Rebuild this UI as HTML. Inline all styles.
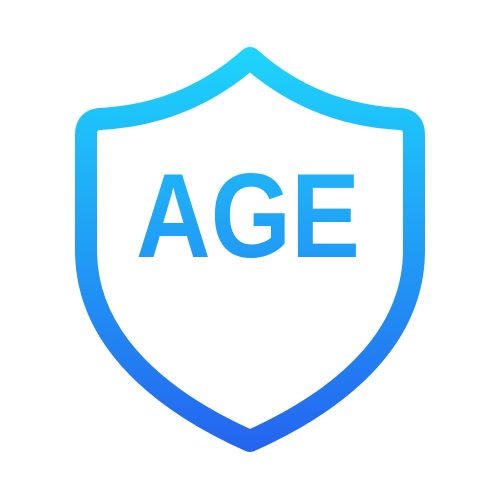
<!DOCTYPE html>
<html>
<head>
<meta charset="utf-8">
<style>
  html,body{margin:0;padding:0;background:#fff;}
  svg{display:block;}
</style>
</head>
<body>
<svg width="500" height="500" viewBox="0 0 500 500">
  <defs>
    <linearGradient id="g" x1="0" y1="45" x2="0" y2="455" gradientUnits="userSpaceOnUse">
      <stop offset="0" stop-color="#1dd6fc"/>
      <stop offset="1" stop-color="#2463ef"/>
    </linearGradient>
  </defs>
  <path
    d="M250,58 C205,98 155,116 100,119 Q86,120 86,135 L86,250 C86,342 165,403 250,441 C335,403 414,342 414,250 L414,135 Q414,120 400,119 C345,116 295,98 250,58 Z"
    fill="none" stroke="url(#g)" stroke-width="22" stroke-linejoin="round"/>
  <text x="136" y="257" textLength="224" lengthAdjust="spacingAndGlyphs"
    font-family="'Liberation Sans', sans-serif" font-weight="bold" font-size="120" fill="url(#g)">AGE</text>
</svg>
</body>
</html>
